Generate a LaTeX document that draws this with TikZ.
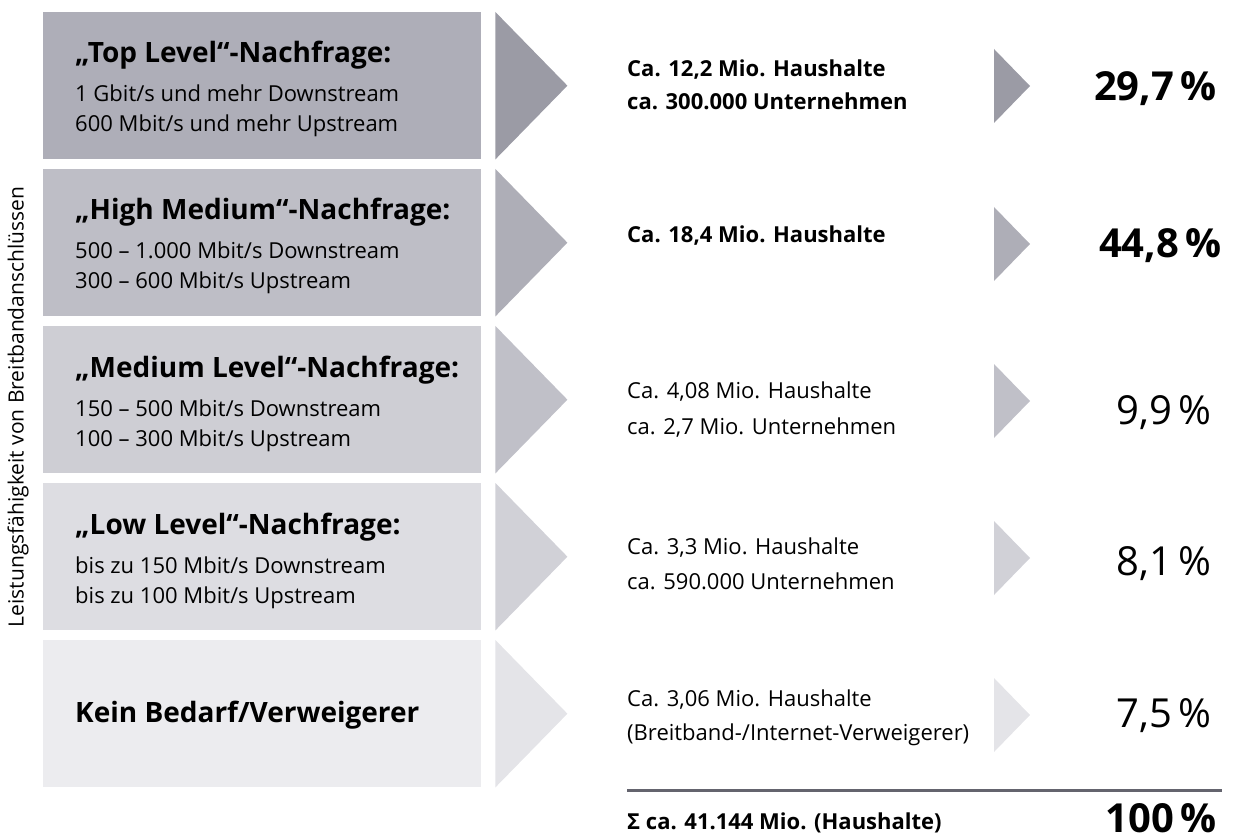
\documentclass[tikz,border=0pt]{standalone}
\usepackage{fontspec}
\setmainfont{Open Sans}
\usetikzlibrary{calc}
\definecolor{bA}{RGB}{174,174,184}\definecolor{aA}{RGB}{155,155,165}
\definecolor{bB}{RGB}{190,190,198}\definecolor{aB}{RGB}{174,174,183}
\definecolor{bC}{RGB}{206,206,212}\definecolor{aC}{RGB}{192,192,200}
\definecolor{bD}{RGB}{221,221,226}\definecolor{aD}{RGB}{209,209,215}
\definecolor{bE}{RGB}{236,236,239}\definecolor{aE}{RGB}{228,228,232}
\definecolor{sumline}{RGB}{100,100,110}
\begin{document}
\begin{tikzpicture}[x=1pt,y=-1pt,
  levelbox/.style={fill=#1, minimum width=438pt, minimum height=147pt, inner sep=0pt, anchor=north west},
  headtext/.style={anchor=base west, inner sep=0pt, font=\fontsize{28}{32}\selectfont\bfseries},
  dettext/.style={anchor=base west, inner sep=0pt, font=\fontsize{22}{26}\selectfont},
  midtext/.style={anchor=base west, inner sep=0pt, font=\fontsize{22}{26}\selectfont},
  midbold/.style={midtext, font=\fontsize{22}{26}\selectfont\bfseries},
  pct/.style={anchor=base east, inner sep=0pt, font=\fontsize{40}{40}\selectfont},
  pctbold/.style={pct, font=\fontsize{40}{40}\selectfont\bfseries}]
\useasboundingbox (0,0) rectangle (1237,834);
\newcommand{\bigarrow}[2]{\fill[#2] ($(#1.north east)+(14,0)$) -- ($(#1.east)+(86,0)$) -- ($(#1.south east)+(14,0)$) -- cycle;}
\newcommand{\smallarrow}[2]{\fill[#2] ($(#1)+(994,-37)$) -- ($(#1)+(1030,0)$) -- ($(#1)+(994,37)$) -- cycle;}
% boxes
\node[levelbox=bA] (b1) at (43,12) {};
\node[levelbox=bB] (b2) at (43,169) {};
\node[levelbox=bC] (b3) at (43,326) {};
\node[levelbox=bD] (b4) at (43,483) {};
\node[levelbox=bE] (b5) at (43,640) {};
\bigarrow{b1}{aA}\bigarrow{b2}{aB}\bigarrow{b3}{aC}\bigarrow{b4}{aD}\bigarrow{b5}{aE}
% box texts
\node[headtext] (h1) at (75,63) {„Top Level“-Nachfrage:};
\node[dettext] (d1a) at (75,102) {1 Gbit/s und mehr Downstream};
\node[dettext] (d1b) at (75,132) {600 Mbit/s und mehr Upstream};
\node[headtext] (h2) at (75,220) {„High Medium“-Nachfrage:};
\node[dettext] (d2a) at (75,259) {500 – 1.000 Mbit/s Downstream};
\node[dettext] (d2b) at (75,289) {300 – 600 Mbit/s Upstream};
\node[headtext] (h3) at (75,377) {„Medium Level“-Nachfrage:};
\node[dettext] (d3a) at (75,416) {150 – 500 Mbit/s Downstream};
\node[dettext] (d3b) at (75,446) {100 – 300 Mbit/s Upstream};
\node[headtext] (h4) at (75,534) {„Low Level“-Nachfrage:};
\node[dettext] (d4a) at (75,573) {bis zu 150 Mbit/s Downstream};
\node[dettext] (d4b) at (75,603) {bis zu 100 Mbit/s Upstream};
\node[headtext] (h5) at (75,722) {Kein Bedarf/Verweigerer};
% row centres
\coordinate (r1) at (0,86);
\coordinate (r2) at (0,244);
\coordinate (r3) at (0,401);
\coordinate (r4) at (0,558);
\coordinate (r5) at (0,715);
\smallarrow{r1}{aA}\smallarrow{r2}{aB}\smallarrow{r3}{aC}\smallarrow{r4}{aD}\smallarrow{r5}{aE}
% middle texts
\node[midbold] (m1a) at (627,77) {Ca. 12,2 Mio. Haushalte};
\node[midbold] (m1b) at (627,110) {ca. 300.000 Unternehmen};
\node[midbold] (m2) at (627,243) {Ca. 18,4 Mio. Haushalte};
\node[midtext] (m3a) at (627,398) {Ca. 4,08 Mio. Haushalte};
\node[midtext] (m3b) at (627,434) {ca. 2,7 Mio. Unternehmen};
\node[midtext] (m4a) at (627,554) {Ca. 3,3 Mio. Haushalte};
\node[midtext] (m4b) at (627,589) {ca. 590.000 Unternehmen};
\node[midtext] (m5a) at (627,706) {Ca. 3,06 Mio. Haushalte};
\node[midtext] (m5b) at (627,740) {(Breitband-/Internet-Verweigerer)};
% percentages
\node[pctbold] (p1) at (1217,101) {29,7\,\%};
\node[pctbold] (p2) at (1222,258) {44,8\,\%};
\node[pct] (p3) at (1212,424) {9,9\,\%};
\node[pct] (p4) at (1212,575) {8,1\,\%};
\node[pct] (p5) at (1212,727) {7,5\,\%};
% sum
\coordinate (sl) at (627,790);
\coordinate (sr) at (1222,790);
\draw[sumline, line width=3pt] (sl) -- (sr);
\node[midbold] (s1) at (627,829) {Σ ca. 41.144 Mio. (Haushalte)};
\node[pctbold] (s2) at (1217,832) {100\,\%};
% axis label
\node[rotate=90, inner sep=0pt, font=\fontsize{21}{24}\selectfont] (ax) at (18,407) {Leistungsfähigkeit von Breitbandanschlüssen};
\end{tikzpicture}
\end{document}
